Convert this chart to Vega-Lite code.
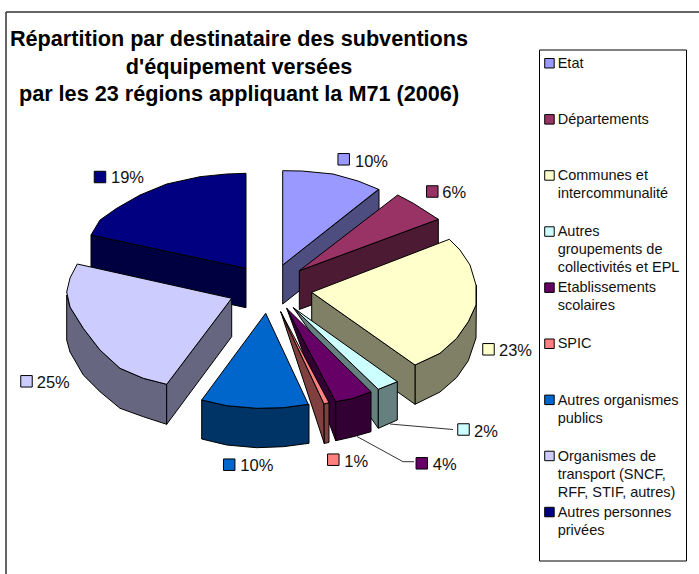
{
"$schema":"https://vega.github.io/schema/vega-lite/v6.json",
"width":699,"height":574,"autosize":{"type":"none"},"padding":0,"background":"white",
"title":{"text":["Répartition par destinataire des subventions","d'équipement versées","par les 23 régions appliquant la M71 (2006)"],"anchor":"start","frame":"group","align":"center","baseline":"alphabetic","offset":0,"dx":239,"dy":122.7,"lineHeight":27.5,"font":"Liberation Sans","fontSize":21.65,"fontWeight":"bold","color":"black"},
"config":{"view":{"stroke":null},"style":{"guide-label":{"lineHeight":18,"dy":4.7}}},
"datasets":{
"frame":[{"x":6,"y":12,"x2":699,"y2":12},{"x":6,"y":12,"x2":6,"y2":574}],
"box":[{"x":539.5,"y":50,"x2":686.5,"y2":561}],
"leaders":[
{"l":"2%","i":0,"x":390,"y":424},{"l":"2%","i":1,"x":453,"y":429.5},
{"l":"4%","i":0,"x":357,"y":436.5},{"l":"4%","i":1,"x":403,"y":461.7},{"l":"4%","i":2,"x":414,"y":461.7}],
"labels":[
{"destinataire":"Etat","part":0.10,"kx":343.7,"ky":159.3,"tx":355,"ty":166.5},
{"destinataire":"Départements","part":0.06,"kx":432.3,"ky":191.5,"tx":442.3,"ty":198.3},
{"destinataire":"Communes et intercommunalité","part":0.23,"kx":488.5,"ky":349.3,"tx":499,"ty":356},
{"destinataire":"Autres groupements de collectivités et EPL","part":0.02,"kx":463.5,"ky":429.5,"tx":474,"ty":436.5},
{"destinataire":"Etablissements scolaires","part":0.04,"kx":421.8,"ky":463.3,"tx":432.7,"ty":470},
{"destinataire":"SPIC","part":0.01,"kx":333.3,"ky":459.7,"tx":344.3,"ty":466.5},
{"destinataire":"Autres organismes publics","part":0.10,"kx":229.2,"ky":464.7,"tx":240.3,"ty":471},
{"destinataire":"Organismes de transport (SNCF, RFF, STIF, autres)","part":0.25,"kx":26.5,"ky":381.3,"tx":36.7,"ty":388.3},
{"destinataire":"Autres personnes privées","part":0.19,"kx":100,"ky":177,"tx":111,"ty":183.3}],
"faces":[
{"f":"e1","c":"Etat (côté)","i":0,"x":282.7,"y":265},{"f":"e1","c":"Etat (côté)","i":1,"x":379,"y":189.3},{"f":"e1","c":"Etat (côté)","i":2,"x":379,"y":228},{"f":"e1","c":"Etat (côté)","i":3,"x":282.7,"y":304},{"f":"e1","c":"Etat (côté)","i":4,"x":282.7,"y":265},
{"f":"e2","c":"Etat","i":0,"x":282.7,"y":265},{"f":"e2","c":"Etat","i":1,"x":282.7,"y":170.7},{"f":"e2","c":"Etat","i":2,"x":301.7,"y":171},{"f":"e2","c":"Etat","i":3,"x":333,"y":174},{"f":"e2","c":"Etat","i":4,"x":358,"y":181},{"f":"e2","c":"Etat","i":5,"x":378.5,"y":189.3},{"f":"e2","c":"Etat","i":6,"x":282.7,"y":265},
{"f":"d1","c":"Départements (côté)","i":0,"x":299.3,"y":270.7},{"f":"d1","c":"Départements (côté)","i":1,"x":438.3,"y":219.3},{"f":"d1","c":"Départements (côté)","i":2,"x":438.3,"y":258},{"f":"d1","c":"Départements (côté)","i":3,"x":299.3,"y":309.5},{"f":"d1","c":"Départements (côté)","i":4,"x":299.3,"y":270.7},
{"f":"d2","c":"Départements","i":0,"x":299.3,"y":270.7},{"f":"d2","c":"Départements","i":1,"x":397.7,"y":195},{"f":"d2","c":"Départements","i":2,"x":413.3,"y":203.3},{"f":"d2","c":"Départements","i":3,"x":438.3,"y":219.3},{"f":"d2","c":"Départements","i":4,"x":299.3,"y":270.7},
{"f":"n1","c":"Autres personnes privées (côté)","i":0,"x":91,"y":235},{"f":"n1","c":"Autres personnes privées (côté)","i":1,"x":246,"y":268.3},{"f":"n1","c":"Autres personnes privées (côté)","i":2,"x":246,"y":307.7},{"f":"n1","c":"Autres personnes privées (côté)","i":3,"x":91,"y":274},{"f":"n1","c":"Autres personnes privées (côté)","i":4,"x":91,"y":235},
{"f":"n2","c":"Autres personnes privées","i":0,"x":246,"y":268.3},{"f":"n2","c":"Autres personnes privées","i":1,"x":246,"y":173.3},{"f":"n2","c":"Autres personnes privées","i":2,"x":226.7,"y":174},{"f":"n2","c":"Autres personnes privées","i":3,"x":200,"y":176.7},{"f":"n2","c":"Autres personnes privées","i":4,"x":166.7,"y":184},{"f":"n2","c":"Autres personnes privées","i":5,"x":140,"y":195},{"f":"n2","c":"Autres personnes privées","i":6,"x":116.7,"y":208.3},{"f":"n2","c":"Autres personnes privées","i":7,"x":100,"y":220},{"f":"n2","c":"Autres personnes privées","i":8,"x":91,"y":235},{"f":"n2","c":"Autres personnes privées","i":9,"x":246,"y":268.3},
{"f":"t1","c":"Organismes de transport (côté)","i":0,"x":66.7,"y":295},{"f":"t1","c":"Organismes de transport (côté)","i":1,"x":70,"y":307},{"f":"t1","c":"Organismes de transport (côté)","i":2,"x":83.3,"y":328.3},{"f":"t1","c":"Organismes de transport (côté)","i":3,"x":100,"y":350},{"f":"t1","c":"Organismes de transport (côté)","i":4,"x":120,"y":368.3},{"f":"t1","c":"Organismes de transport (côté)","i":5,"x":143.3,"y":378.3},{"f":"t1","c":"Organismes de transport (côté)","i":6,"x":166.7,"y":384.3},{"f":"t1","c":"Organismes de transport (côté)","i":7,"x":166.7,"y":424.3},{"f":"t1","c":"Organismes de transport (côté)","i":8,"x":143.3,"y":416.7},{"f":"t1","c":"Organismes de transport (côté)","i":9,"x":120,"y":408.3},{"f":"t1","c":"Organismes de transport (côté)","i":10,"x":100,"y":391.7},{"f":"t1","c":"Organismes de transport (côté)","i":11,"x":83.3,"y":375},{"f":"t1","c":"Organismes de transport (côté)","i":12,"x":70,"y":352},{"f":"t1","c":"Organismes de transport (côté)","i":13,"x":66.7,"y":340},{"f":"t1","c":"Organismes de transport (côté)","i":14,"x":66.7,"y":295},
{"f":"t2","c":"Organismes de transport (côté)","i":0,"x":166.7,"y":384.3},{"f":"t2","c":"Organismes de transport (côté)","i":1,"x":231.7,"y":298.3},{"f":"t2","c":"Organismes de transport (côté)","i":2,"x":231.7,"y":336.7},{"f":"t2","c":"Organismes de transport (côté)","i":3,"x":166.7,"y":424.3},{"f":"t2","c":"Organismes de transport (côté)","i":4,"x":166.7,"y":384.3},
{"f":"t3","c":"Organismes de transport (SNCF, RFF, STIF, autres)","i":0,"x":77.3,"y":264},{"f":"t3","c":"Organismes de transport (SNCF, RFF, STIF, autres)","i":1,"x":231.7,"y":298.3},{"f":"t3","c":"Organismes de transport (SNCF, RFF, STIF, autres)","i":2,"x":166.7,"y":384.3},{"f":"t3","c":"Organismes de transport (SNCF, RFF, STIF, autres)","i":3,"x":143.3,"y":378.3},{"f":"t3","c":"Organismes de transport (SNCF, RFF, STIF, autres)","i":4,"x":120,"y":368.3},{"f":"t3","c":"Organismes de transport (SNCF, RFF, STIF, autres)","i":5,"x":100,"y":350},{"f":"t3","c":"Organismes de transport (SNCF, RFF, STIF, autres)","i":6,"x":83.3,"y":328.3},{"f":"t3","c":"Organismes de transport (SNCF, RFF, STIF, autres)","i":7,"x":70,"y":307},{"f":"t3","c":"Organismes de transport (SNCF, RFF, STIF, autres)","i":8,"x":66.7,"y":292},{"f":"t3","c":"Organismes de transport (SNCF, RFF, STIF, autres)","i":9,"x":70,"y":278},{"f":"t3","c":"Organismes de transport (SNCF, RFF, STIF, autres)","i":10,"x":77.3,"y":264},
{"f":"c1","c":"Communes (côté)","i":0,"x":476.5,"y":285},{"f":"c1","c":"Communes (côté)","i":1,"x":476,"y":305},{"f":"c1","c":"Communes (côté)","i":2,"x":468.3,"y":321.7},{"f":"c1","c":"Communes (côté)","i":3,"x":456.7,"y":338.3},{"f":"c1","c":"Communes (côté)","i":4,"x":440,"y":353.3},{"f":"c1","c":"Communes (côté)","i":5,"x":415,"y":365},{"f":"c1","c":"Communes (côté)","i":6,"x":415,"y":404.3},{"f":"c1","c":"Communes (côté)","i":7,"x":440,"y":392},{"f":"c1","c":"Communes (côté)","i":8,"x":456.7,"y":377.5},{"f":"c1","c":"Communes (côté)","i":9,"x":468.3,"y":360.7},{"f":"c1","c":"Communes (côté)","i":10,"x":476,"y":338},{"f":"c1","c":"Communes (côté)","i":11,"x":476.5,"y":285},
{"f":"c2","c":"Communes (côté)","i":0,"x":311.7,"y":292.3},{"f":"c2","c":"Communes (côté)","i":1,"x":415,"y":365},{"f":"c2","c":"Communes (côté)","i":2,"x":415,"y":404.3},{"f":"c2","c":"Communes (côté)","i":3,"x":311.7,"y":331},{"f":"c2","c":"Communes (côté)","i":4,"x":311.7,"y":292.3},
{"f":"c3","c":"Communes et intercommunalité","i":0,"x":311.7,"y":292.3},{"f":"c3","c":"Communes et intercommunalité","i":1,"x":449.3,"y":239.3},{"f":"c3","c":"Communes et intercommunalité","i":2,"x":460,"y":250},{"f":"c3","c":"Communes et intercommunalité","i":3,"x":470,"y":265},{"f":"c3","c":"Communes et intercommunalité","i":4,"x":476,"y":285},{"f":"c3","c":"Communes et intercommunalité","i":5,"x":476,"y":305},{"f":"c3","c":"Communes et intercommunalité","i":6,"x":468.3,"y":321.7},{"f":"c3","c":"Communes et intercommunalité","i":7,"x":456.7,"y":338.3},{"f":"c3","c":"Communes et intercommunalité","i":8,"x":440,"y":353.3},{"f":"c3","c":"Communes et intercommunalité","i":9,"x":415,"y":365},{"f":"c3","c":"Communes et intercommunalité","i":10,"x":311.7,"y":292.3},
{"f":"g1","c":"Autres groupements (côté)","i":0,"x":293.3,"y":307.7},{"f":"g1","c":"Autres groupements (côté)","i":1,"x":378.3,"y":389.3},{"f":"g1","c":"Autres groupements (côté)","i":2,"x":378.3,"y":428.3},{"f":"g1","c":"Autres groupements (côté)","i":3,"x":293.3,"y":307.7},
{"f":"g2","c":"Autres groupements (côté)","i":0,"x":378.3,"y":389.3},{"f":"g2","c":"Autres groupements (côté)","i":1,"x":397.3,"y":381.7},{"f":"g2","c":"Autres groupements (côté)","i":2,"x":397.3,"y":420},{"f":"g2","c":"Autres groupements (côté)","i":3,"x":378.3,"y":428.3},{"f":"g2","c":"Autres groupements (côté)","i":4,"x":378.3,"y":389.3},
{"f":"g3","c":"Autres groupements de collectivités et EPL","i":0,"x":293.3,"y":307.7},{"f":"g3","c":"Autres groupements de collectivités et EPL","i":1,"x":397.3,"y":381.7},{"f":"g3","c":"Autres groupements de collectivités et EPL","i":2,"x":378.3,"y":389.3},{"f":"g3","c":"Autres groupements de collectivités et EPL","i":3,"x":293.3,"y":307.7},
{"f":"s1","c":"Etablissements (côté)","i":0,"x":335.7,"y":401.7},{"f":"s1","c":"Etablissements (côté)","i":1,"x":353.3,"y":398.3},{"f":"s1","c":"Etablissements (côté)","i":2,"x":371,"y":391.7},{"f":"s1","c":"Etablissements (côté)","i":3,"x":371,"y":431.7},{"f":"s1","c":"Etablissements (côté)","i":4,"x":353.3,"y":436.7},{"f":"s1","c":"Etablissements (côté)","i":5,"x":335.7,"y":440.7},{"f":"s1","c":"Etablissements (côté)","i":6,"x":335.7,"y":401.7},
{"f":"s2","c":"Etablissements (côté)","i":0,"x":286.7,"y":308.3},{"f":"s2","c":"Etablissements (côté)","i":1,"x":335.7,"y":401.7},{"f":"s2","c":"Etablissements (côté)","i":2,"x":335.7,"y":440.7},{"f":"s2","c":"Etablissements (côté)","i":3,"x":286.7,"y":308.3},
{"f":"s3","c":"Etablissements scolaires","i":0,"x":286.7,"y":308.3},{"f":"s3","c":"Etablissements scolaires","i":1,"x":371,"y":391.7},{"f":"s3","c":"Etablissements scolaires","i":2,"x":353.3,"y":398.3},{"f":"s3","c":"Etablissements scolaires","i":3,"x":335.7,"y":401.7},{"f":"s3","c":"Etablissements scolaires","i":4,"x":286.7,"y":308.3},
{"f":"p1","c":"SPIC (côté)","i":0,"x":280.7,"y":311.7},{"f":"p1","c":"SPIC (côté)","i":1,"x":324,"y":404},{"f":"p1","c":"SPIC (côté)","i":2,"x":324.3,"y":443.5},{"f":"p1","c":"SPIC (côté)","i":3,"x":280.7,"y":311.7},
{"f":"p2","c":"SPIC (côté)","i":0,"x":324,"y":404},{"f":"p2","c":"SPIC (côté)","i":1,"x":329,"y":402.7},{"f":"p2","c":"SPIC (côté)","i":2,"x":329,"y":442.3},{"f":"p2","c":"SPIC (côté)","i":3,"x":324.3,"y":443.5},{"f":"p2","c":"SPIC (côté)","i":4,"x":324,"y":404},
{"f":"p3","c":"SPIC","i":0,"x":280.7,"y":311.7},{"f":"p3","c":"SPIC","i":1,"x":329,"y":402.7},{"f":"p3","c":"SPIC","i":2,"x":324,"y":404},{"f":"p3","c":"SPIC","i":3,"x":280.7,"y":311.7},
{"f":"o1","c":"Autres organismes (côté)","i":0,"x":201.7,"y":400},{"f":"o1","c":"Autres organismes (côté)","i":1,"x":226.7,"y":405.7},{"f":"o1","c":"Autres organismes (côté)","i":2,"x":256.7,"y":408.3},{"f":"o1","c":"Autres organismes (côté)","i":3,"x":283.3,"y":407.7},{"f":"o1","c":"Autres organismes (côté)","i":4,"x":309,"y":404.3},{"f":"o1","c":"Autres organismes (côté)","i":5,"x":309,"y":443.3},{"f":"o1","c":"Autres organismes (côté)","i":6,"x":283.3,"y":446.7},{"f":"o1","c":"Autres organismes (côté)","i":7,"x":256.7,"y":447.7},{"f":"o1","c":"Autres organismes (côté)","i":8,"x":226.7,"y":445},{"f":"o1","c":"Autres organismes (côté)","i":9,"x":201.7,"y":439},{"f":"o1","c":"Autres organismes (côté)","i":10,"x":201.7,"y":400},
{"f":"o2","c":"Autres organismes publics","i":0,"x":265.7,"y":313.3},{"f":"o2","c":"Autres organismes publics","i":1,"x":308.3,"y":404.3},{"f":"o2","c":"Autres organismes publics","i":2,"x":283.3,"y":407.7},{"f":"o2","c":"Autres organismes publics","i":3,"x":256.7,"y":408.3},{"f":"o2","c":"Autres organismes publics","i":4,"x":226.7,"y":405.7},{"f":"o2","c":"Autres organismes publics","i":5,"x":201.7,"y":400},{"f":"o2","c":"Autres organismes publics","i":6,"x":265.7,"y":313.3}
]},
"data":{"name":"labels"},
"layer":[
{"data":{"name":"frame"},"mark":{"type":"rule","stroke":"#333333","strokeWidth":1.5},
 "encoding":{"x":{"field":"x","type":"quantitative","scale":{"domain":[0,699],"nice":false,"zero":false},"axis":null},"x2":{"field":"x2"},"y":{"field":"y","type":"quantitative","scale":{"domain":[574,0],"nice":false,"zero":false},"axis":null},"y2":{"field":"y2"}}},
{"data":{"name":"box"},"mark":{"type":"rect","stroke":"black","strokeWidth":1,"fill":"white"},
 "encoding":{"x":{"field":"x","type":"quantitative","axis":null},"x2":{"field":"x2"},"y":{"field":"y","type":"quantitative","axis":null},"y2":{"field":"y2"}}},
{"data":{"name":"faces"},"mark":{"type":"line","stroke":"black","strokeWidth":1,"interpolate":"linear"},
 "encoding":{"x":{"field":"x","type":"quantitative","axis":null},"y":{"field":"y","type":"quantitative","axis":null},"detail":{"field":"f"},"order":{"field":"i","type":"quantitative"},
 "fill":{"field":"c","type":"nominal"}}},
{"data":{"name":"leaders"},"mark":{"type":"line","stroke":"#333333","strokeWidth":1},
 "encoding":{"x":{"field":"x","type":"quantitative","axis":null},"y":{"field":"y","type":"quantitative","axis":null},"detail":{"field":"l"},"order":{"field":"i","type":"quantitative"}}},
{"mark":{"type":"point","shape":"square","filled":true,"size":132,"stroke":"black","strokeWidth":1,"opacity":1},
 "encoding":{"x":{"field":"kx","type":"quantitative","axis":null},"y":{"field":"ky","type":"quantitative","axis":null},
 "fill":{"field":"destinataire","type":"nominal","title":null,
  "scale":{"domain":["Etat","Départements","Communes et intercommunalité","Autres groupements de collectivités et EPL","Etablissements scolaires","SPIC","Autres organismes publics","Organismes de transport (SNCF, RFF, STIF, autres)","Autres personnes privées","Etat (côté)","Départements (côté)","Communes (côté)","Autres groupements (côté)","Etablissements (côté)","SPIC (côté)","Autres organismes (côté)","Organismes de transport (côté)","Autres personnes privées (côté)"],
  "range":["#9999FF","#993366","#FFFFCC","#CCFFFF","#660066","#FF8080","#0066CC","#CCCCFF","#000080","#4D4D80","#4D1A33","#808066","#668080","#330033","#804040","#003366","#666680","#000040"]},
  "legend":{"orient":"none","legendX":542.2,"legendY":56,"values":["Etat","Départements","Communes et intercommunalité","Autres groupements de collectivités et EPL","Etablissements scolaires","SPIC","Autres organismes publics","Organismes de transport (SNCF, RFF, STIF, autres)","Autres personnes privées"],
  "symbolType":"square","symbolSize":90,"symbolStrokeColor":"black","symbolStrokeWidth":1,"symbolOpacity":1,"labelFont":"Liberation Sans","labelFontSize":14.5,"labelColor":"#111111","labelBaseline":"alphabetic","labelLimit":300,"labelOffset":1,"padding":0,"rowPadding":4.1,"gridAlign":"all","columns":1,
  "labelExpr":"datum.label=='Communes et intercommunalité'?['Communes et','intercommunalité']:datum.label=='Autres groupements de collectivités et EPL'?['Autres','groupements de','collectivités et EPL']:datum.label=='Etablissements scolaires'?['Etablissements','scolaires']:datum.label=='Autres organismes publics'?['Autres organismes','publics']:datum.label=='Organismes de transport (SNCF, RFF, STIF, autres)'?['Organismes de','transport (SNCF,','RFF, STIF, autres)']:datum.label=='Autres personnes privées'?['Autres personnes','privées']:datum.label"}}}},
{"mark":{"type":"text","align":"left","baseline":"alphabetic","font":"Liberation Sans","fontSize":16.5,"color":"#111111"},
 "encoding":{"x":{"field":"tx","type":"quantitative","axis":null},"y":{"field":"ty","type":"quantitative","axis":null},"text":{"field":"part","type":"quantitative","format":".0%"}}}
]}
